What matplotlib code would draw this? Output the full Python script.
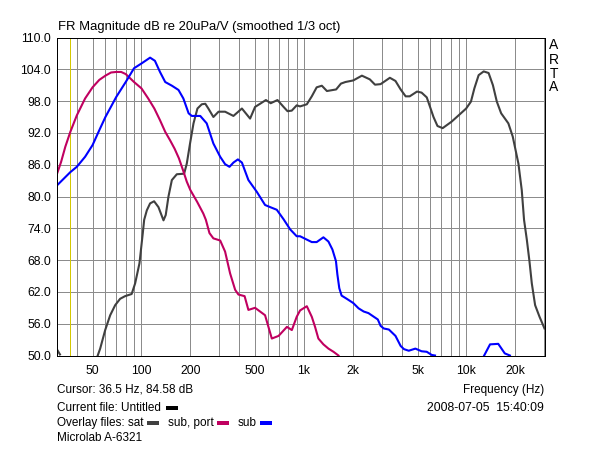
import numpy as np
import matplotlib
matplotlib.use('Agg')
import matplotlib.pyplot as plt
from matplotlib.lines import Line2D
from matplotlib.ticker import FixedLocator, FixedFormatter, NullFormatter

plt.rcParams['font.family'] = ['Liberation Sans', 'DejaVu Sans']

# sat
sat_f = [30, 31.5, np.nan, 53.8, 55.7, 59.8, 64.2, 68.9, 73.9, 79.3, 87, 91.4, 97.2, 101.9, 103.9, 107.9, 113, 119.6, 127.2,
         136.6, 141, 146.6, 153.8, 165, 183, 190, 199, 209, 221, 235, 247, 258, 277, 298, 327, 368, 415, 466, 500,
         537, 583, 624, 687, 749, 792, 841, 902, 946, 1041, 1117, 1197, 1288, 1384, 1577, 1688, 1798, 2010, 2272,
         2542, 2736, 2960, 3377, 3656, 3934, 4222, 4473, 4960, 5292, 5695, 5967, 6265, 6630, 7133, 8082, 9085, 9950,
         10650, 11180, 11880, 12760, 13680, 14540, 15370, 16340, 18100, 19260, 20870, 21880, 22600, 23500, 24400,
         25230, 26440, 28150, 30200]
sat_db = [51.3, 50.2, np.nan, 50, 51.3, 54.8, 57.6, 59.5, 60.7, 61.2, 61.6, 63.6, 67.4, 73.1, 75.6, 77.4, 78.7, 79.1, 78,
          75.5, 76.5, 80, 83.1, 84.2, 84.3, 86.2, 90, 93.8, 96.6, 97.4, 97.5, 96.6, 95, 96, 96, 95.2, 96.6, 94.7, 96.9,
          97.5, 98.2, 97.6, 98.2, 96.9, 96.1, 96.2, 97.2, 97, 97.4, 98.9, 100.6, 100.9, 99.9, 100.2, 101.3, 101.6, 101.9, 102.8,
          102.1, 101.1, 101.2, 102.4, 101.8, 100.2, 98.9, 98.9, 99.8, 99.6, 98.7, 96.9, 95, 93.3, 92.9, 94.1, 95.5, 96.6,
          97.9, 100.4, 102.9, 103.6, 103.3, 101, 97.9, 95.7, 93.8, 91.3, 86.2, 81.2, 75.6, 71.9, 67.8,
          63.6, 59.5, 57.3, 55.1]

# sub, port
port_f = [30, 32, 34, 36.5, 40, 45, 50, 55, 60, 65, 70, 75, 80, 90, 100, 110, 120, 130, 140, 150, 160, 170, 180, 190, 200,
          220, 240, 249, 262, 277, 305, 327, 351, 377, 395, 431, 455, 500, 576, 634, 698, 785, 842, 902, 946, 1041,
          1117, 1170, 1226, 1317, 1414, 1519, 1630]
port_db = [84, 86.5, 89.4, 92.2, 95.3, 98.5, 100.6, 102, 102.8, 103.4, 103.5, 103.5, 103.1, 101.6, 100.4, 98.5, 96.6, 94.4,
           92.2, 90.6, 89, 87.2, 85, 82.8, 81.2, 79, 76.8, 75.6, 73.1, 72.1, 71.7, 69.6, 65.5, 62.4, 61.5, 61.2, 58.6, 59,
           57.6, 53.2, 53.7, 55.4, 54.8, 57.3, 58.5, 59.3, 57.3, 55.4, 53.2, 52.1, 51.3, 50.7, 50]

# sub
sub_f = [30, 36.5, 40, 45, 50, 55, 60, 70, 80, 90, 100, 113, 121, 130, 140, 154, 169, 181, 195, 204, 230, 252, 277, 305, 327,
         348, 368, 392, 415, 455, 512, 576, 619, 680, 749, 822, 902, 946, 1117, 1197, 1317, 1414, 1496, 1573, 1605,
         1649, 1704, 1833, 2010, 2167, 2330, 2492, 2846, 2960, 3095, 3330, 3656, 3934, 4123, 4412, 4846, 5292, 5695,
         6113, 6400, np.nan, 12845, 13960, 15680, 17200, 18500]
sub_db = [82, 84.6, 85.6, 87.5, 89.7, 92.5, 95, 98.8, 101.6, 104.2, 105.1, 106.2, 105.6, 103.5, 101.6, 100.9, 100.1, 98.5, 95.7,
          95.2, 95.2, 93.8, 90, 87.5, 86.1, 85.6, 86.4, 87, 86.4, 83.1, 80.9, 78.4, 78, 77.5, 75.7, 73.8, 72.5, 72.5, 71.4,
          71.4, 72.3, 71.5, 70, 67.8, 65.3, 62.7, 61.3, 60.7, 59.9, 58.9, 58.3, 58, 56.8, 55.6, 55.1, 54.9, 53.7, 51.8,
          51.2, 50.9, 51.3, 50.8, 50.7, 50.1, 50, np.nan, 50, 52.1, 52.2, 50.4, 50]

y_ticks = [50, 56, 62, 68, 74, 80, 86, 92, 98, 104, 110]
x_ticks = [50, 100, 200, 500, 1000, 2000, 5000, 10000, 20000]
x_labels = ['50', '100', '200', '500', '1k', '2k', '5k', '10k', '20k']
x_minor = [30, 40, 60, 70, 80, 90, 300, 400, 600, 700, 800, 900, 3000, 4000, 6000, 7000, 8000, 9000, 30000]
cursor_f = 36.5

W, H = 600, 449
fig = plt.figure(figsize=(W / 100, H / 100), dpi=100, facecolor='white')
ax = fig.add_axes([56.5 / W, 1 - 355.5 / H, 488 / W, 318 / H])
ax.set_xscale('log')
ax.set_xlim(30, 30200)
ax.set_ylim(50, 110)

ax.xaxis.set_major_locator(FixedLocator(x_ticks))
ax.xaxis.set_major_formatter(FixedFormatter(x_labels))
ax.xaxis.set_minor_locator(FixedLocator(x_minor))
ax.xaxis.set_minor_formatter(NullFormatter())
ax.set_yticks(y_ticks)
ax.set_yticklabels(['%.1f' % v for v in y_ticks])
ax.tick_params(which='both', length=0, labelsize=8.8, colors='black')
ax.tick_params(axis='x', pad=7)
ax.tick_params(axis='y', pad=4)
ax.grid(True, which='both', color='#8C8C8C', linewidth=0.72, antialiased=False)
ax.set_axisbelow(True)
for s in ax.spines.values():
    s.set_linewidth(0.72)
    s.set_color('black')

ax.axvline(cursor_f, color='#D4C800', linewidth=0.72, antialiased=False)
ax.plot(sat_f, sat_db, color='#404040', linewidth=1.5)
ax.plot(port_f, port_db, color='#C00060', linewidth=1.5)
ax.plot(sub_f, sub_db, color='#0000FF', linewidth=1.5)


def label(x, y, s, ha='left', size=8.5):
    fig.text(x / W, 1 - y / H, s, fontsize=size, ha=ha, va='center', color='black')


def swatch(x0, x1, y, c):
    fig.add_artist(Line2D([x0 / W, x1 / W], [1 - y / H, 1 - y / H], color=c, linewidth=1.6,
                          solid_capstyle='butt', antialiased=False))


label(58, 27, 'FR Magnitude dB re 20uPa/V (smoothed 1/3 oct)', size=9.4)
for y, c in zip([45, 60, 74, 87], 'ARTA'):
    fig.text(553.5 / W, 1 - y / H, c, fontsize=10, ha='center', va='center')
label(57, 390, 'Cursor: 36.5 Hz, 84.58 dB')
label(544, 390, 'Frequency (Hz)', ha='right')
label(57, 408, 'Current file: Untitled')
label(544, 408, '2008-07-05  15:40:09', ha='right', size=8.8)
label(57, 423, 'Overlay files: sat')
label(168, 423, 'sub, port')
label(238, 423, 'sub')
label(57, 438, 'Microlab A-6321')
swatch(166, 178, 408, 'black')
swatch(147, 159, 423, '#404040')
swatch(217, 229, 423, '#C00060')
swatch(260, 272, 423, '#0000FF')

fig.savefig('out.png', dpi=100)
